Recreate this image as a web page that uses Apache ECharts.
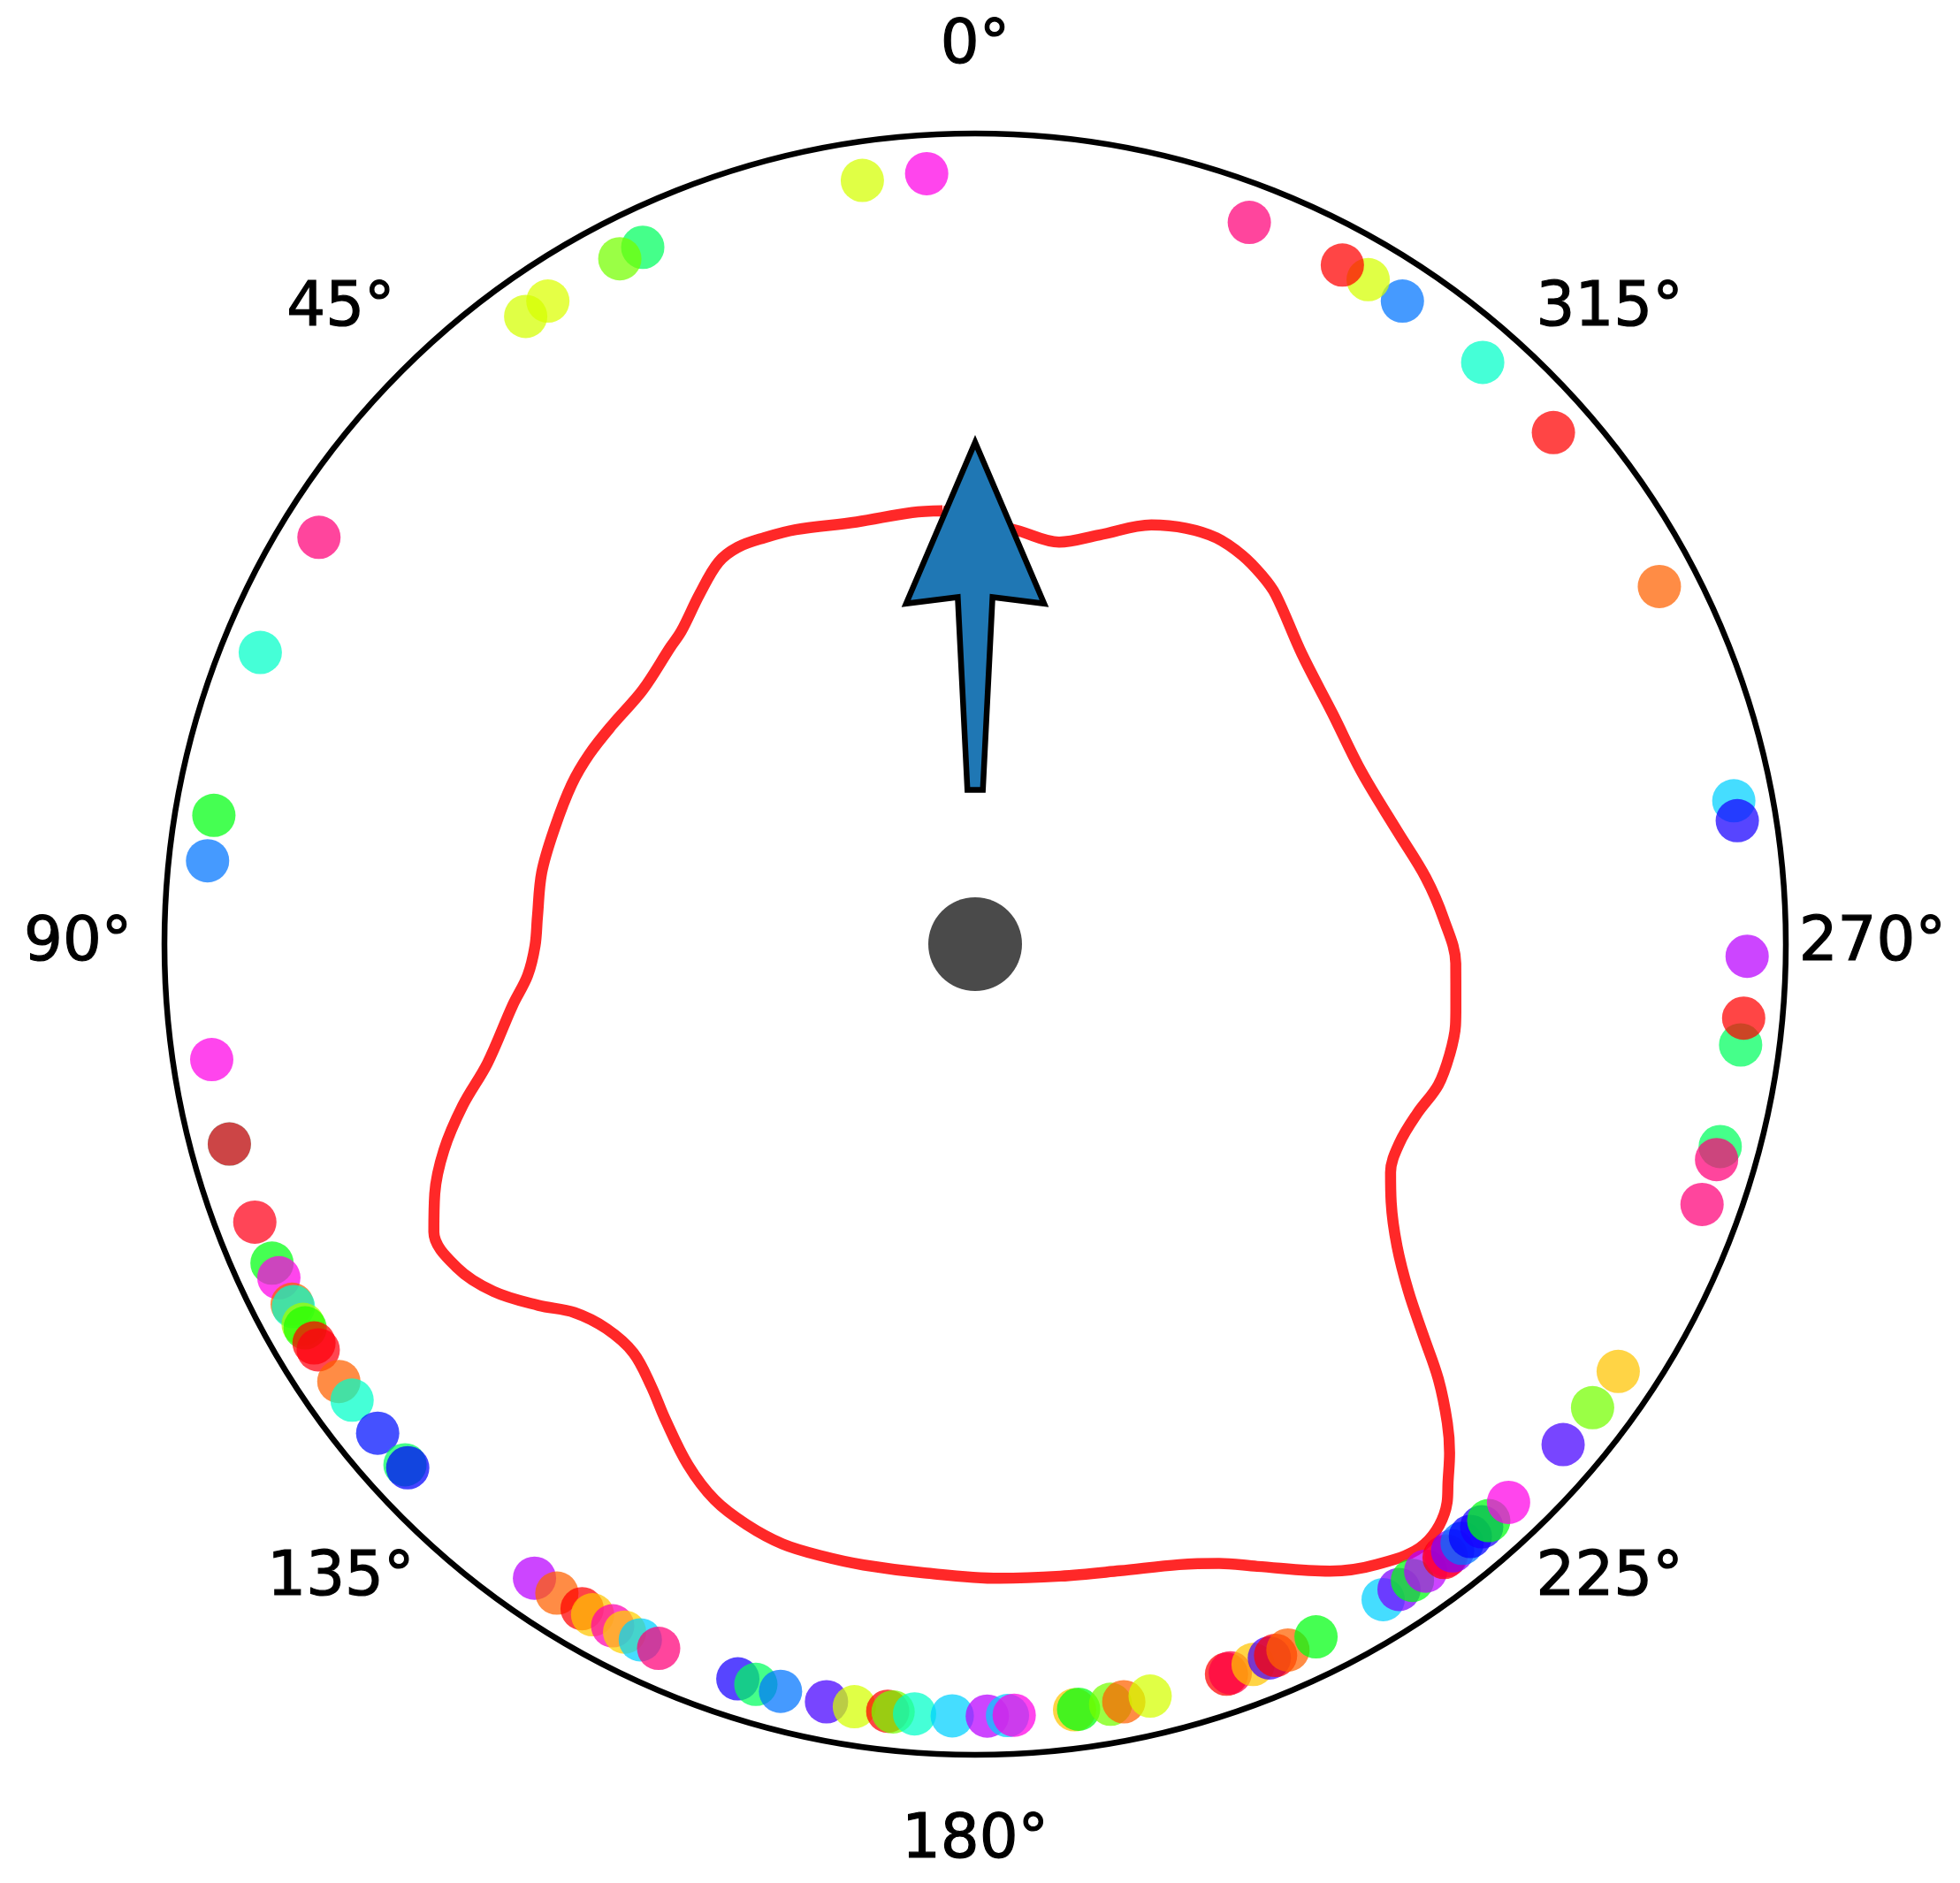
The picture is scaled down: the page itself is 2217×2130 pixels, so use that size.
<!DOCTYPE html>
<html>
<head>
<meta charset="utf-8">
<script src="https://cdn.jsdelivr.net/npm/echarts@6/dist/echarts.min.js"></script>
<style>html,body{margin:0;padding:0;background:#fff}#c{width:2217px;height:2130px}</style>
</head>
<body>
<div id="c"></div>
<script>
// ---- data ----
const tickAngles = [0, 45, 90, 135, 180, 225, 270, 315];
const tickLabels = ['0°', '45°', '90°', '135°', '180°', '225°', '270°', '315°'];
const RMAX = 1.05;
const LABEL_R = 1.162;

const dotRadius = 1.0;
const dotAngles = [
  3.6, 8.4, 25.5, 27.4, 33.6, 35.6, 58.2, 67.8, 80.4, 83.8,
  98.6, 105.0, 105.0, 111.1, 114.4, 115.6, 117.8, 118.0, 119.5, 119.8,
  121.1, 121.7, 124.5, 126.2, 129.3, 132.4, 132.7, 145.2, 147.2, 149.4,
  150.3, 152.0, 153.0, 154.3, 155.8, 162.1, 163.5, 165.4, 168.9, 171.0,
  173.5, 173.9, 175.5, 178.3, 180.9, 182.4, 182.9, 187.4, 187.7, 190.1,
  191.1, 193.1, 199.0, 199.3, 201.1, 202.4, 202.9, 203.9, 206.2, 211.9,
  213.3, 214.5, 215.7, 217.4, 217.6, 218.2, 219.1, 219.9, 221.0, 221.7,
  223.7, 229.6, 233.1, 236.4, 250.3, 254.8, 253.8, 262.5, 264.5, 269.1,
  280.7, 279.2, 297.6, 311.5, 318.9, 326.4, 329.4, 331.6, 339.2
];
const dotColors = [
  '#ff00e6', '#d4ff00', '#00ff5e', '#74ff00', '#dcff00', '#d4ff00', '#ff0079', '#00ffc8', '#00ff12', '#0074ff',
  '#ff00e6', '#00ffc8', '#ff0010', '#ff0018', '#00ff12', '#ff00e6', '#ff6200', '#00ffc8', '#a0ff00', '#20ff00',
  '#ff0000', '#ff0010', '#ff6200', '#00ffc8', '#0010ff', '#00ff5e', '#0000ff', '#b900ff', '#ff6200', '#ff0000',
  '#ffc400', '#ff00b0', '#ffd000', '#00d1ff', '#ff0079', '#1800ff', '#00ff5e', '#0074ff', '#4600ff', '#d4ff00',
  '#ff0000', '#74ff00', '#00ffc8', '#00d1ff', '#b900ff', '#00d1ff', '#ff00e6', '#ffc400', '#00ff12', '#74ff00',
  '#ff6200', '#d4ff00', '#ff0000', '#ff0044', '#ffc400', '#4600ff', '#ff0000', '#ff6200', '#00ff12', '#00d1ff',
  '#7a00ff', '#00ff12', '#b900ff', '#ff0000', '#ff0044', '#8000ff', '#0074ff', '#0000ff', '#1800ff', '#00ff12',
  '#ff00e6', '#4600ff', '#74ff00', '#ffc400', '#ff0079', '#00ff5e', '#ff0079', '#00ff5e', '#ff0000', '#b900ff',
  '#00d1ff', '#1800ff', '#ff6200', '#ff0000', '#00ffc8', '#0074ff', '#d4ff00', '#ff0000', '#ff0079'
];

const curveAngles = [
  4.3, 8.3, 15.7, 23.4, 27.4, 30.9, 33.9, 38.2, 43.2, 45.8,
  52.6, 58.8, 63.8, 68.4, 74.6, 80.6, 86.4, 90.2, 94.0, 97.5,
  103.7, 107.5, 111.2, 114.8, 118.0, 122.0, 125.8, 129.6, 132.6, 136.2,
  140.1, 143.8, 146.8, 151.1, 154.9, 158.5, 162.2, 166.0, 169.8, 175.4,
  182.2, 187.7, 193.0, 198.2, 201.5, 204.4, 209.5, 212.9, 216.8, 220.2,
  221.3, 223.0, 224.6, 226.8, 228.9, 231.3, 234.4, 238.2, 241.2, 244.9,
  249.0, 253.1, 256.9, 260.4, 262.5, 267.7, 273.0, 278.4, 285.0, 294.0,
  302.9, 311.6, 319.3, 322.1, 325.5, 329.3, 333.1, 337.2, 343.1, 348.2,
  353.9, 4.3
];
const curveRadii = [
  0.563, 0.565, 0.568, 0.585, 0.593, 0.599, 0.596, 0.577, 0.556, 0.551,
  0.542, 0.549, 0.557, 0.562, 0.565, 0.569, 0.568, 0.570, 0.581, 0.604,
  0.650, 0.696, 0.738, 0.771, 0.794, 0.791, 0.769, 0.734, 0.705, 0.690,
  0.690, 0.710, 0.734, 0.770, 0.795, 0.808, 0.816, 0.817, 0.817, 0.817,
  0.822, 0.826, 0.833, 0.846, 0.862, 0.885, 0.933, 0.957, 0.971, 0.947,
  0.928, 0.901, 0.871, 0.823, 0.770, 0.719, 0.672, 0.634, 0.614, 0.607,
  0.613, 0.627, 0.631, 0.631, 0.628, 0.623, 0.608, 0.590, 0.566, 0.548,
  0.551, 0.566, 0.597, 0.605, 0.611, 0.612, 0.604, 0.589, 0.554, 0.532,
  0.538, 0.563
];

// arrow polygon (angle in degrees, radius in data units)
const arrowAngles = [2.865, 2.865, 11.459, 0, 348.541, 357.135, 357.135];
const arrowRadii  = [0.20, 0.45, 0.45, 0.65, 0.45, 0.45, 0.20];

const centerDot = [0, 0];

// ---- chart ----
const chart = echarts.init(document.getElementById('c'), null, {renderer: 'canvas'});
chart.setOption({
  animation: false,
  backgroundColor: '#ffffff',
  polar: {center: [1103, 1068], radius: 917},
  angleAxis: {
    type: 'value', min: 0, max: 360, interval: 45,
    startAngle: 90, clockwise: false,
    axisLine: {show: true, lineStyle: {color: '#000000', width: 6.5}},
    axisTick: {show: false}, axisLabel: {show: false}, splitLine: {show: false}
  },
  radiusAxis: {
    type: 'value', min: 0, max: RMAX,
    axisLine: {show: false}, axisTick: {show: false},
    axisLabel: {show: false}, splitLine: {show: false}
  },
  series: [
    {
      type: 'line', coordinateSystem: 'polar', z: 2,
      symbol: 'none', smooth: 0.35, clip: false,
      lineStyle: {color: '#ff2828', width: 12.5, join: 'round'},
      data: curveAngles.map((a, i) => [curveRadii[i], a])
    },
    {
      type: 'scatter', coordinateSystem: 'polar', z: 3, clip: false,
      symbolSize: 49,
      itemStyle: {opacity: 0.73},
      data: dotAngles.map((a, i) => ({value: [dotRadius, a], itemStyle: {color: dotColors[i]}}))
    },
    {
      type: 'custom', coordinateSystem: 'polar', z: 4, clip: false,
      data: [[0.45, 0]],
      renderItem: function (params, api) {
        const pts = arrowAngles.map((a, i) => api.coord([arrowRadii[i], a]));
        return {
          type: 'polygon',
          shape: {points: pts},
          style: {fill: '#1f77b4', stroke: '#000000', lineWidth: 6.5, lineJoin: 'miter', miterLimit: 10}
        };
      }
    },
    {
      type: 'scatter', coordinateSystem: 'polar', z: 5, clip: false,
      symbolSize: 106,
      itemStyle: {color: '#4a4a4a', opacity: 1},
      data: [centerDot]
    },
    {
      type: 'scatter', coordinateSystem: 'polar', z: 6, clip: false,
      symbolSize: 1,
      itemStyle: {color: 'rgba(255,255,255,0)'},
      label: {
        show: true, position: 'inside',
        formatter: p => tickLabels[p.dataIndex],
        color: '#000000', opacity: 1,
        textBorderColor: '#000000', textBorderWidth: 1.2,
        fontSize: 69, fontFamily: 'DejaVu Sans'
      },
      data: tickAngles.map(a => [LABEL_R, a])
    }
  ]
});
</script>
</body>
</html>
